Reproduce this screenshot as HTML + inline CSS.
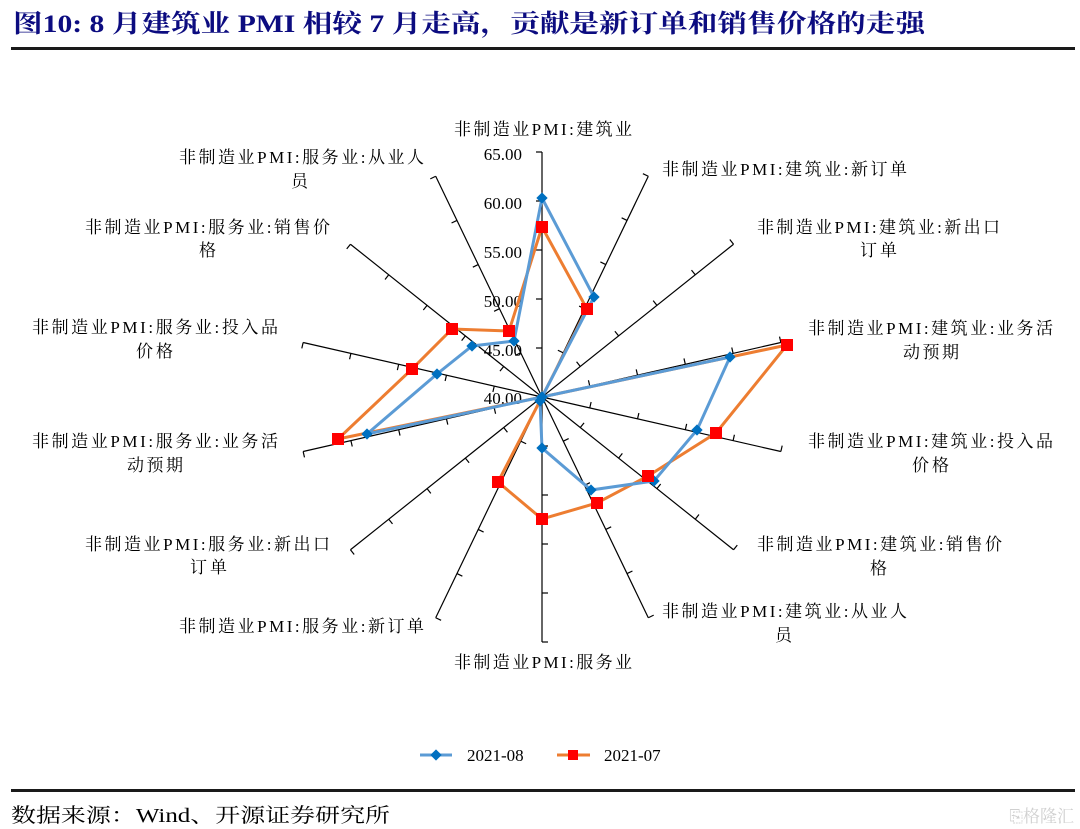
<!DOCTYPE html>
<html><head><meta charset="utf-8"><style>
html,body{margin:0;padding:0;background:#fff;width:1080px;height:829px;overflow:hidden}
svg{display:block}
text{font-family:"Liberation Serif","Noto Serif CJK SC",serif;}
</style></head><body>
<svg id="s" width="1080" height="829" viewBox="0 0 1080 829" xmlns="http://www.w3.org/2000/svg">
<text x="13" y="32" font-size="25" font-weight="bold" fill="#0c0c80" textLength="912" lengthAdjust="spacingAndGlyphs">图10:  8 月建筑业 PMI 相较 7 月走高，贡献是新订单和销售价格的走强</text>
<rect x="11" y="47" width="1064" height="3" fill="#1a1a1a"/>
<g id="axes" stroke="#000" stroke-width="1.2" fill="none"></g>
<g font-size="17" fill="#000" text-anchor="end">
<text x="522" y="160">65.00</text><text x="522" y="209">60.00</text><text x="522" y="258">55.00</text>
<text x="522" y="307">50.00</text><text x="522" y="356">45.00</text><text x="522" y="404">40.00</text>
</g>
<polyline fill="none" stroke="#ed7d31" stroke-width="3" points="542,227 587,309 542,397 787,345 716,433 648,476 597,503 542,519 498,482 542,397 338,439 412,369 452,329 509,331 542,227"/>
<polyline fill="none" stroke="#5b9bd5" stroke-width="3" points="542,198 594,297 542,397 730,357 697,430 654,481 591,490 542,448 540,401 542,397 367,434 437,374 472,346 514,341 542,198"/>
<g id="bm" fill="#0070c0"></g>
<g id="om" fill="#ff0000"></g>
<g font-size="17" fill="#000" lengthAdjust="spacingAndGlyphs">
<text x="454" y="135" textLength="178">非制造业PMI:建筑业</text>
<text x="662" y="175" textLength="245">非制造业PMI:建筑业:新订单</text>
<text x="757" y="233" textLength="243">非制造业PMI:建筑业:新出口</text>
<text x="860" y="256" textLength="37">订单</text>
<text x="808" y="334" textLength="245">非制造业PMI:建筑业:业务活</text>
<text x="903" y="358" textLength="56">动预期</text>
<text x="808" y="447" textLength="245">非制造业PMI:建筑业:投入品</text>
<text x="912" y="471" textLength="37">价格</text>
<text x="757" y="550" textLength="245">非制造业PMI:建筑业:销售价</text>
<text x="870" y="574" textLength="18">格</text>
<text x="662" y="617" textLength="245">非制造业PMI:建筑业:从业人</text>
<text x="775" y="641" textLength="18">员</text>
<text x="454" y="668" textLength="178">非制造业PMI:服务业</text>
<text x="179" y="632" textLength="245">非制造业PMI:服务业:新订单</text>
<text x="85" y="550" textLength="245">非制造业PMI:服务业:新出口</text>
<text x="190" y="573" textLength="37">订单</text>
<text x="32" y="447" textLength="246">非制造业PMI:服务业:业务活</text>
<text x="127" y="471" textLength="56">动预期</text>
<text x="32" y="333" textLength="246">非制造业PMI:服务业:投入品</text>
<text x="136" y="357" textLength="37">价格</text>
<text x="85" y="233" textLength="245">非制造业PMI:服务业:销售价</text>
<text x="199" y="256" textLength="18">格</text>
<text x="179" y="163" textLength="245">非制造业PMI:服务业:从业人</text>
<text x="291" y="187" textLength="18">员</text>
</g>
<line x1="420" y1="755" x2="452" y2="755" stroke="#5b9bd5" stroke-width="3"/>
<rect x="432" y="751" width="8" height="8" fill="#0070c0" transform="rotate(45 436 755)"/>
<text x="467" y="761" font-size="17">2021-08</text>
<line x1="557" y1="755" x2="590" y2="755" stroke="#ed7d31" stroke-width="3"/>
<rect x="568" y="750" width="10" height="10" fill="#ff0000"/>
<text x="604" y="761" font-size="17">2021-07</text>
<rect x="11" y="789" width="1064" height="3" fill="#1a1a1a"/>
<text x="11" y="822" font-size="20" textLength="379" lengthAdjust="spacingAndGlyphs">数据来源：Wind、开源证券研究所</text>
<text x="1074" y="822" font-size="17" fill="#d0d0d0" text-anchor="end" font-family="Liberation Sans,Noto Sans CJK SC,sans-serif">⎘格隆汇</text>
</svg>
<script>
var cx=542,cy=397,R=245,ns="http://www.w3.org/2000/svg";
var ax=document.getElementById("axes");
for(var k=0;k<14;k++){
 var a=k*2*Math.PI/14,s=Math.sin(a),c=-Math.cos(a);
 var l=document.createElementNS(ns,"line");
 l.setAttribute("x1",cx);l.setAttribute("y1",cy);
 l.setAttribute("x2",cx+R*s);l.setAttribute("y2",cy+R*c);ax.appendChild(l);
 for(var t=1;t<=5;t++){var r=49*t,px=cx+r*s,py=cy+r*c;
  var m=document.createElementNS(ns,"line");
  var nx=-c,ny=s;
  m.setAttribute("x1",px);m.setAttribute("y1",py);
  m.setAttribute("x2",px-6*nx);m.setAttribute("y2",py-6*ny);ax.appendChild(m);}
}
var b=[[542,198],[594,297],[542,397],[730,357],[697,430],[654,481],[591,490],[542,448],[540,401],[542,397],[367,434],[437,374],[472,346],[514,341]];
var o=[[542,227],[587,309],[787,345],[716,433],[648,476],[597,503],[542,519],[498,482],[338,439],[412,369],[452,329],[509,331]];
var bm=document.getElementById("bm"),om=document.getElementById("om");
b.forEach(function(p){var r=document.createElementNS(ns,"rect");r.setAttribute("x",p[0]-4);r.setAttribute("y",p[1]-4);r.setAttribute("width",8);r.setAttribute("height",8);r.setAttribute("transform","rotate(45 "+p[0]+" "+p[1]+")");bm.appendChild(r);});
o.forEach(function(p){var r=document.createElementNS(ns,"rect");r.setAttribute("x",p[0]-6);r.setAttribute("y",p[1]-6);r.setAttribute("width",12);r.setAttribute("height",12);om.appendChild(r);});
</script>
</body></html>
